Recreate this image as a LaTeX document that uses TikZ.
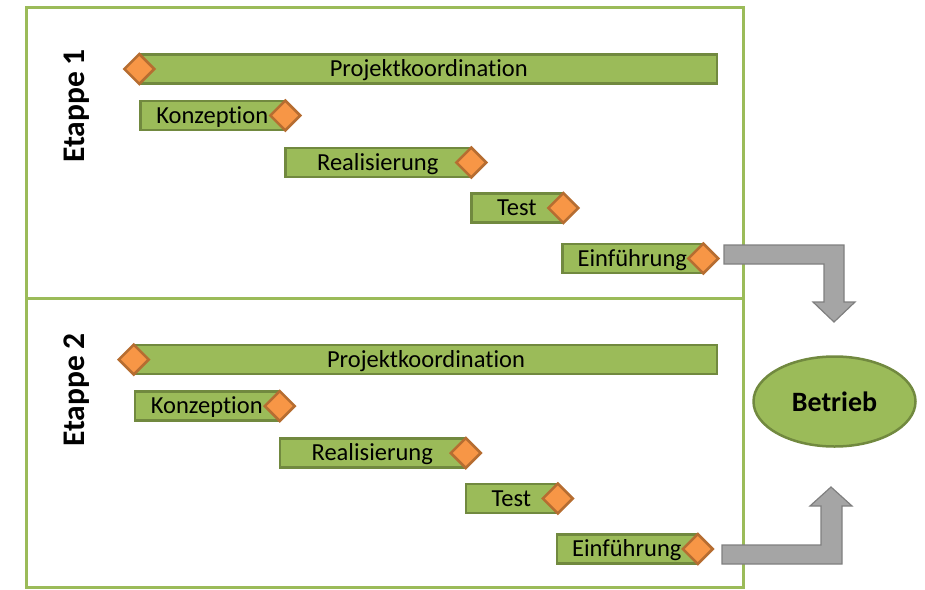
\documentclass[tikz,border=0pt]{standalone}
\usepackage{fontspec}
\setmainfont{Carlito}[Ligatures=CommonOff]
\usepackage{tikz}
\usetikzlibrary{shapes.geometric, positioning}
\definecolor{sgreen}{RGB}{155,187,89}
\definecolor{sdarkgreen}{RGB}{113,137,63}
\definecolor{sorange}{RGB}{247,150,70}
\definecolor{sdarkorange}{RGB}{182,109,49}
\definecolor{sgray}{RGB}{165,165,165}
\definecolor{sdarkgray}{RGB}{127,127,127}

\begin{document}
\begin{tikzpicture}[x=1pt,y=-1pt,
  font=\fontsize{24.5}{28}\selectfont,
  frm/.style={draw=sgreen,line width=3pt},
  bar/.style={draw=sdarkgreen,fill=sgreen,line width=2.5pt,anchor=west,
              minimum height=29pt,inner sep=0pt,text height=15.5pt,text depth=0pt},
  ms/.style={diamond,draw=sdarkorange,fill=sorange,line width=2.5pt,
             minimum size=31pt,inner sep=0pt},
  lbl/.style={rotate=90,font=\fontsize{31.5}{31}\selectfont\bfseries},
  res/.style={ellipse,draw=sdarkgreen,fill=sgreen,line width=2.5pt,
              minimum width=162pt,minimum height=90pt,inner sep=0pt,
              font=\fontsize{28}{28}\selectfont\bfseries},
  blockarr/.style={draw=sdarkgray,fill=sgray,line width=1.2pt,line join=miter}
]
  \useasboundingbox (0,0) rectangle (925,589);
  \draw[frm] (26.5,7.5) rectangle (743,298.5);
  \draw[frm] (26.5,298.5) rectangle (743,587.5);
  % two stages, second one shifted a bit
  \foreach \s/\dx/\dy/\ly in {1/0/0/106,2/-5.5/290.5/390} {
    \node[lbl] (etappe\s) at (76.5,\ly) {Etappe \s};
    \node[bar,minimum width={(576.5-\dx)*1pt}] (proj\s) at (139.25+\dx,69+\dy)
      {Projektkoordination};
    \node[bar,minimum width=143.5pt] (konz\s) at (139.25+\dx,115.5+\dy)
      {Konzeption};
    \node[bar,minimum width=184.5pt] (real\s) at (284.25+\dx,162.5+\dy)
      {Realisierung};
    \node[bar,minimum width=90.5pt] (test\s) at (470.25+\dx,208+\dy)
      {Test};
    \node[bar,minimum width=139.5pt] (einf\s) at (561.25+\dx,258.5+\dy)
      {Einführung};
    \node[ms] (mproj\s) at (proj\s.west) {};
    \foreach \b in {konz,real,test,einf}
      \node[ms] (m\b\s) at (\b\s.east) {};
  }
  \node[res] (betrieb) at (834.5,401.5) {Betrieb};
  % block arrows into Betrieb
  \draw[blockarr] (724,245) -- (844,245) -- (844,302) -- (855,302) -- (834,322)
    -- (813,302) -- (824,302) -- (824,264) -- (724,264) -- cycle;
  \draw[blockarr] (722,564) -- (842,564) -- (842,506) -- (852,506) -- (831,487)
    -- (810,506) -- (821,506) -- (821,545) -- (722,545) -- cycle;
\end{tikzpicture}
\end{document}
